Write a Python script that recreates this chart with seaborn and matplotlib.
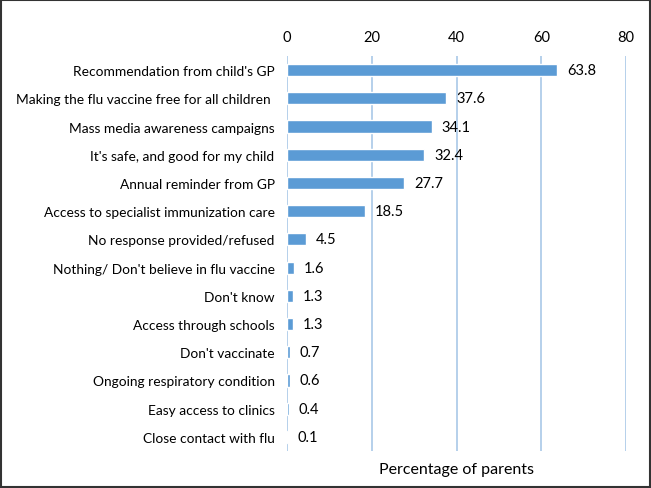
"""
    Horizontal bar chart of factors that would encourage flu vaccination
"""

import matplotlib.pyplot as plt
import seaborn as sns
import pandas as pd

reasons = [
    "Recommendation from child's GP",
    "Making the flu vaccine free for all children ",
    "Mass media awareness campaigns",
    "It's safe, and good for my child",
    "Annual reminder from GP",
    "Access to specialist immunization care",
    "No response provided/refused",
    "Nothing/ Don't believe in flu vaccine",
    "Don't know",
    "Access through schools",
    "Don't vaccinate",
    "Ongoing respiratory condition",
    "Easy access to clinics",
    "Close contact with flu",
]
percent = [63.8, 37.6, 34.1, 32.4, 27.7, 18.5, 4.5, 1.6, 1.3, 1.3, 0.7, 0.6, 0.4, 0.1]
xticks = [0, 20, 40, 60, 80]

df = pd.DataFrame({"reason": reasons, "percent": percent})

sns.set_style("white")
plt.rcParams["font.family"] = ["Lato", "DejaVu Sans"]

fig = plt.figure(figsize=(6.51, 4.89), dpi=100)
ax = fig.add_axes([0.441, 0.0757, 0.5206, 0.8077])

sns.barplot(data=df, x="percent", y="reason", orient="h", color="#5B9BD5",
            width=0.43, saturation=1, ax=ax, zorder=3)
ax.bar_label(ax.containers[0], labels=[f"{v:.1f}" for v in percent],
             padding=7, fontsize=10.5, color="black")

ax.set_xlim(0, 80)
ax.set_ylim(13.5, -0.5)
ax.set_xticks(xticks)
ax.xaxis.tick_top()
ax.tick_params(axis="x", length=0, pad=9, labelsize=10.5, colors="black")
ax.tick_params(axis="y", length=0, pad=9, labelsize=9.9, colors="black")
ax.grid(axis="x", color="#A9C8E8", linewidth=1.2, zorder=0)
for s in ax.spines.values():
    s.set_visible(False)
ax.set_ylabel("")
ax.set_xlabel("Percentage of parents", fontsize=11.5, color="black", labelpad=8)

# frame around the whole picture
fig.patches.append(plt.Rectangle((0.002, 0.002), 0.996, 0.996, transform=fig.transFigure,
                                 fill=False, edgecolor="#333333", linewidth=1.5))

fig.savefig("out.png", dpi=100)
